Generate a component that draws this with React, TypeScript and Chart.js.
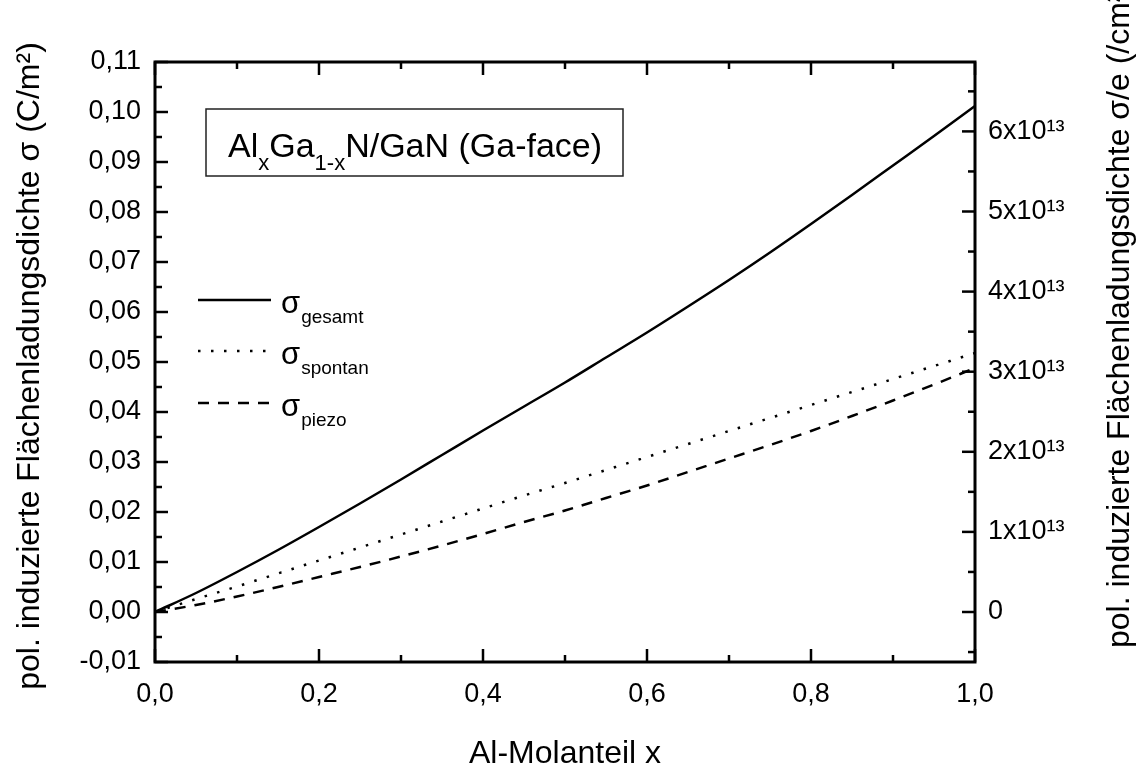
import React, { useEffect, useRef } from "react";
import { Chart, registerables } from "chart.js";

Chart.register(...registerables);

// ---- data ----
const X_VALUES = [0, 0.05, 0.1, 0.15, 0.2, 0.25, 0.3, 0.35, 0.4, 0.45, 0.5, 0.55, 0.6, 0.65, 0.7, 0.75, 0.8, 0.85, 0.9, 0.95, 1.0];
const SIGMA_GESAMT = [0, 0.0038, 0.008, 0.0124, 0.017, 0.0217, 0.0265, 0.0314, 0.0363, 0.0411, 0.0459, 0.0509, 0.0559, 0.0611, 0.0664, 0.0719, 0.0776, 0.0834, 0.0893, 0.0952, 0.1012];
const SIGMA_SPONTAN = [0, 0.0026, 0.0051, 0.0077, 0.0103, 0.0129, 0.0155, 0.0181, 0.0207, 0.0233, 0.0258, 0.0284, 0.031, 0.0336, 0.0362, 0.0388, 0.0414, 0.044, 0.0466, 0.0492, 0.0518];
const SIGMA_PIEZO = [0, 0.0014, 0.0031, 0.005, 0.007, 0.009, 0.0111, 0.0133, 0.0156, 0.018, 0.0203, 0.0228, 0.0253, 0.028, 0.0307, 0.0334, 0.0362, 0.0392, 0.0423, 0.0455, 0.0488];

const SERIES_NAMES = ["gesamt", "spontan", "piezo"];

// ---- axes ----
const X_MIN = 0;
const X_MAX = 1;
const X_TICKS = [0, 0.2, 0.4, 0.6, 0.8, 1.0];
const X_MINOR = [0.1, 0.3, 0.5, 0.7, 0.9];
const Y_MIN = -0.01;
const Y_MAX = 0.11;
const Y_TICKS = [-0.01, 0, 0.01, 0.02, 0.03, 0.04, 0.05, 0.06, 0.07, 0.08, 0.09, 0.1, 0.11];
const Y_MINOR = [-0.005, 0.005, 0.015, 0.025, 0.035, 0.045, 0.055, 0.065, 0.075, 0.085, 0.095, 0.105];
const ELEMENTARY_CHARGE = 1.602e-19; // C
const Y2_TICKS = [0, 1e13, 2e13, 3e13, 4e13, 5e13, 6e13];
const Y2_MINOR = [-0.5e13, 0.5e13, 1.5e13, 2.5e13, 3.5e13, 4.5e13, 5.5e13, 6.5e13];
const toPerCm2 = (s: number) => s / ELEMENTARY_CHARGE / 1e4;

const X_TITLE = "Al-Molanteil x";
const Y_TITLE = "pol. induzierte Flächenladungsdichte σ (C/m²)";
const Y2_TITLE = "pol. induzierte Flächenladungsdichte σ/e (/cm²)";

const FONT = "'Liberation Sans', Arial, sans-serif";

const W = 1139;
const H = 769;
const PLOT_LEFT = 155;
const PLOT_RIGHT = 975;
const PLOT_TOP = 62;
const PLOT_BOTTOM = 662;

const LINE_DASHES: number[][] = [[], [2.5, 10.5], [11, 9]];

const decorPlugin = {
  id: "decor",
  afterDraw(chart: any) {
    const { ctx, chartArea: ca, scales } = chart;
    const xs = scales.x, ys = scales.y, y2 = scales.y2;
    ctx.save();
    ctx.strokeStyle = "#000";
    ctx.fillStyle = "#000";
    // frame
    ctx.lineWidth = 3;
    ctx.setLineDash([]);
    ctx.strokeRect(ca.left, ca.top, ca.right - ca.left, ca.bottom - ca.top);
    // inward ticks
    ctx.lineWidth = 2.5;
    const seg = (x1: number, y1: number, x2: number, y2_: number) => {
      ctx.beginPath();
      ctx.moveTo(x1, y1);
      ctx.lineTo(x2, y2_);
      ctx.stroke();
    };
    const MAJ = 13, MIN = 7;
    X_TICKS.forEach((v) => {
      const p = xs.getPixelForValue(v);
      seg(p, ca.bottom, p, ca.bottom - MAJ);
      seg(p, ca.top, p, ca.top + MAJ);
    });
    X_MINOR.forEach((v) => {
      const p = xs.getPixelForValue(v);
      seg(p, ca.bottom, p, ca.bottom - MIN);
      seg(p, ca.top, p, ca.top + MIN);
    });
    Y_TICKS.forEach((v) => {
      const p = ys.getPixelForValue(v);
      seg(ca.left, p, ca.left + MAJ, p);
    });
    Y_MINOR.forEach((v) => {
      const p = ys.getPixelForValue(v);
      seg(ca.left, p, ca.left + MIN, p);
    });
    Y2_TICKS.forEach((v) => {
      const p = y2.getPixelForValue(v);
      seg(ca.right, p, ca.right - MAJ, p);
    });
    Y2_MINOR.forEach((v) => {
      const p = y2.getPixelForValue(v);
      seg(ca.right, p, ca.right - MIN, p);
    });

    // vertical axis titles
    ctx.font = `32px ${FONT}`;
    ctx.textBaseline = "middle";
    ctx.save();
    ctx.translate(30, 366);
    ctx.rotate(-Math.PI / 2);
    ctx.textAlign = "center";
    ctx.fillText(Y_TITLE, 0, 0);
    ctx.restore();
    ctx.save();
    ctx.translate(1120, 648);
    ctx.rotate(-Math.PI / 2);
    ctx.textAlign = "left";
    ctx.fillText(Y2_TITLE, 0, 0);
    ctx.restore();

    // legend
    const rowsY = [300, 351, 403];
    ctx.textBaseline = "alphabetic";
    ctx.textAlign = "left";
    SERIES_NAMES.forEach((name, i) => {
      ctx.lineWidth = 2.5;
      ctx.setLineDash(LINE_DASHES[i]);
      ctx.beginPath();
      ctx.moveTo(198, rowsY[i]);
      ctx.lineTo(271, rowsY[i]);
      ctx.stroke();
      ctx.setLineDash([]);
      ctx.font = `31px ${FONT}`;
      ctx.fillText("σ", 281, rowsY[i] + 13);
      const w = ctx.measureText("σ").width;
      ctx.font = `19px ${FONT}`;
      ctx.fillText(name, 281 + w + 1, rowsY[i] + 23);
    });

    // label box
    ctx.lineWidth = 1.5;
    ctx.strokeStyle = "#222";
    ctx.strokeRect(206, 109, 417, 67);
    const parts: [string, boolean][] = [["Al", false], ["x", true], ["Ga", false], ["1-x", true], ["N/GaN (Ga-face)", false]];
    let cx = 228;
    parts.forEach(([t, sub]) => {
      ctx.font = sub ? `22px ${FONT}` : `34px ${FONT}`;
      ctx.fillText(t, cx, sub ? 170 : 157);
      cx += ctx.measureText(t).width;
    });
    ctx.restore();
  },
};

export default function App() {
  const ref = useRef<HTMLCanvasElement | null>(null);
  useEffect(() => {
    if (!ref.current) return;
    const mk = (arr: number[]) => X_VALUES.map((x, i) => ({ x, y: arr[i] }));
    const base = { borderColor: "#000", pointRadius: 0, fill: false, borderWidth: 2.5, cubicInterpolationMode: "monotone" as const, yAxisID: "y" };
    const chart = new Chart(ref.current, {
      type: "line",
      data: {
        datasets: [
          { ...base, label: SERIES_NAMES[0], data: mk(SIGMA_GESAMT), borderDash: LINE_DASHES[0] },
          { ...base, label: SERIES_NAMES[1], data: mk(SIGMA_SPONTAN), borderDash: LINE_DASHES[1] },
          { ...base, label: SERIES_NAMES[2], data: mk(SIGMA_PIEZO), borderDash: LINE_DASHES[2] },
        ],
      },
      options: {
        responsive: false,
        animation: false,
        events: [],
        layout: { padding: { top: PLOT_TOP, left: 0, right: 0, bottom: 0 } },
        plugins: { legend: { display: false }, tooltip: { enabled: false }, title: { display: false } },
        scales: {
          x: {
            type: "linear",
            position: "bottom",
            min: X_MIN,
            max: X_MAX,
            grid: { display: false, drawTicks: false },
            border: { display: false },
            afterBuildTicks: (s: any) => { s.ticks = X_TICKS.map((v) => ({ value: v })); },
            afterFit: (s: any) => { s.height = H - PLOT_BOTTOM; },
            ticks: {
              color: "#000",
              font: { family: FONT, size: 27 },
              padding: 16,
              maxRotation: 0,
              autoSkip: false,
              callback: (v: any) => Number(v).toFixed(1).replace(".", ","),
            },
            title: { display: true, text: X_TITLE, color: "#000", font: { family: FONT, size: 32, lineHeight: 0.94 }, padding: 0 },
          },
          y: {
            type: "linear",
            position: "left",
            min: Y_MIN,
            max: Y_MAX,
            grid: { display: false, drawTicks: false },
            border: { display: false },
            afterBuildTicks: (s: any) => { s.ticks = Y_TICKS.map((v) => ({ value: v })); },
            afterFit: (s: any) => { s.width = PLOT_LEFT; },
            ticks: {
              color: "#000",
              font: { family: FONT, size: 27 },
              padding: 14,
              autoSkip: false,
              callback: (v: any) => Number(v).toFixed(2).replace(".", ","),
            },
          },
          y2: {
            type: "linear",
            position: "right",
            min: toPerCm2(Y_MIN),
            max: toPerCm2(Y_MAX),
            grid: { display: false, drawTicks: false },
            border: { display: false },
            afterBuildTicks: (s: any) => { s.ticks = Y2_TICKS.map((v) => ({ value: v })); },
            afterFit: (s: any) => { s.width = W - PLOT_RIGHT; },
            ticks: {
              color: "#000",
              font: { family: FONT, size: 27 },
              padding: 13,
              autoSkip: false,
              callback: (v: any) => (Number(v) === 0 ? "0" : `${Math.round(Number(v) / 1e13)}x10¹³`),
            },
          },
        },
      },
      plugins: [decorPlugin],
    });
    return () => chart.destroy();
  }, []);
  return (
    <div style={{ position: "absolute", left: 0, top: 0, width: W, height: H, background: "#fff" }}>
      <canvas ref={ref} width={W} height={H} style={{ display: "block" }} />
    </div>
  );
}
